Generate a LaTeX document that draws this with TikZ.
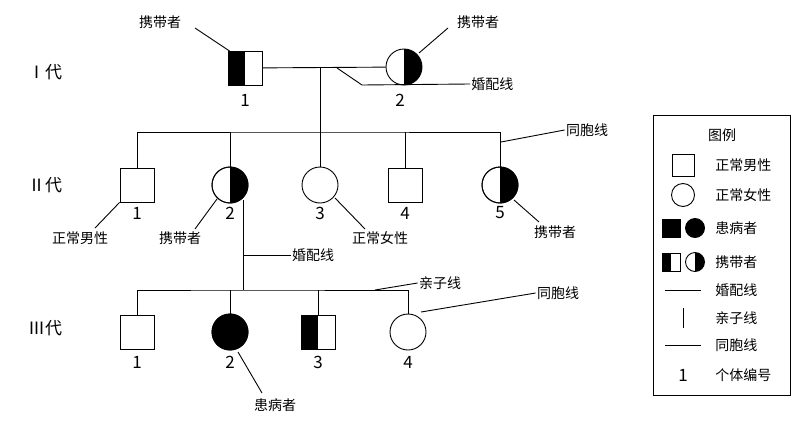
\documentclass[tikz,border=0pt]{standalone}
\usepackage{fontspec}
\setmainfont{Noto Sans CJK SC}
\usetikzlibrary{positioning}
\begin{document}
\begin{tikzpicture}[x=1pt, y=-1pt, line width=0.9pt, font=\fontsize{14}{16}\selectfont,
   male/.style={draw, rectangle, minimum size=34pt, inner sep=0pt},
   female/.style={draw, circle, minimum size=36pt, inner sep=0pt},
   lhalf/.style={path picture={\fill (path picture bounding box.south west) rectangle (path picture bounding box.north);}},
   rhalf/.style={path picture={\fill (path picture bounding box.south) rectangle (path picture bounding box.north east);}},
   sick/.style={fill=black},
   lbl/.style={font=\fontsize{14}{16}\selectfont, inner sep=1pt},
   num/.style={font=\fontsize{17}{18}\selectfont}]
   \useasboundingbox (0,0) rectangle (800,439);
   % generation labels
   \node[num] at (45,72) {Ⅰ代};
   \node[num] at (45,185) {Ⅱ代};
   \node[num] at (45,328) {Ⅲ代};
   % generation I
   \node[male, lhalf] (i1) at (245,68) {};
   \node[female, rhalf] (i2) at (404,67) {};
   \node[num] at (245,100) (n11) {1};
   \node[num] at (400,100) (n12) {2};
   \draw (i1) -- (i2);
   \coordinate (ia) at (320,68);
   \coordinate (ib) at (320,132);
   \draw (ia) -- (ib);
   % generation II
   \foreach \nm/\x/\st in {ii1/137/male, ii2/230/female, ii3/320/female, ii4/405/male, ii5/500/female}
     \node[\st] (\nm) at (\x,185) {};
   \node[female, rhalf] at (ii2) {};
   \node[female, rhalf] at (ii5) {};
   \draw (ii1.north) |- (ib) -| (ii5.north);
   \foreach \nm in {ii2, ii3, ii4}
     \draw (\nm.north |- ib) -- (\nm.north);
   \foreach \nm/\k in {ii1/1, ii2/2, ii3/3, ii4/4, ii5/5}
     \node[num] at (\nm |- 0,213) {\k};
   % generation III
   \coordinate (iia) at (243,200);
   \coordinate (iib) at (243,290);
   \draw (iia) -- (iib);
   \foreach \nm/\x/\st in {iii1/137/male, iii2/230/female, iii3/318/male, iii4/408/female}
     \node[\st] (\nm) at (\x,332) {};
   \node[female, sick] at (iii2) {};
   \node[male, lhalf] at (iii3) {};
   \draw (iii1.north) |- (iib) -| (iii4.north);
   \foreach \nm in {iii2, iii3}
     \draw (\nm.north |- iib) -- (\nm.north);
   \foreach \nm/\k in {iii1/1, iii2/2, iii3/3, iii4/4}
     \node[num] at (\nm |- 0,362) {\k};
   % callouts
   \node[lbl] (c1) at (160,22) {携带者};
   \node[lbl] (c2) at (478,22) {携带者};
   \draw (195,28) -- (231,52);
   \draw (448,28) -- (419,53);
   \node[lbl, anchor=west] (c3) at (470,84) {婚配线};
   \draw (337,68) -- (362,85) -- (c3.west);
   \node[lbl] (c4) at (587,130) {同胞线};
   \draw (501,142) -- (c4.west);
   \node[lbl] (c5) at (80,238) {正常男性};
   \draw (95,228) -- (ii1.south west);
   \node[lbl] (c6) at (180,238) {携带者};
   \draw (195,229) -- (217,199);
   \node[lbl] (c7) at (380,238) {正常女性};
   \draw (365,229) -- (335,198);
   \node[lbl] (c8) at (555,232) {携带者};
   \draw (539,222) -- (514,200);
   \node[lbl] (c9) at (313,255) {婚配线};
   \draw (243,255) -- (c9.west);
   \node[lbl] (c10) at (440,283) {亲子线};
   \draw (375,290) -- (c10.west);
   \node[lbl] (c11) at (558,293) {同胞线};
   \draw (421,312) -- (c11.west);
   \node[lbl] (c12) at (275,405) {患病者};
   \draw (238,352) -- (262,393);
   % legend
   \draw (653,115) rectangle (790,395);
   \node[lbl] at (722,135) {图例};
   \node[male, minimum size=22pt] (l1) at (683,165) {};
   \node[female, minimum size=23pt] (l2) at (683,195) {};
   \node[male, sick, minimum size=18pt] (l3a) at (671,228) {};
   \node[female, sick, minimum size=19pt] (l3b) at (695,228) {};
   \node[male, lhalf, minimum size=18pt] (l4a) at (671,262) {};
   \node[female, rhalf, minimum size=19pt] (l4b) at (695,262) {};
   \coordinate (l5a) at (665,290); \coordinate (l5b) at (701,290);
   \draw (l5a) -- (l5b);
   \coordinate (l6a) at (683,308); \coordinate (l6b) at (683,328);
   \draw (l6a) -- (l6b);
   \coordinate (l7a) at (665,345); \coordinate (l7b) at (701,345);
   \draw (l7a) -- (l7b);
   \node[num] (l8) at (683,375) {1};
   \foreach \y/\t in {165/正常男性, 195/正常女性, 228/患病者, 262/携带者, 290/婚配线, 318/亲子线, 345/同胞线, 375/个体编号}
     \node[lbl, anchor=west] at (714,\y) {\t};
\end{tikzpicture}
\end{document}
